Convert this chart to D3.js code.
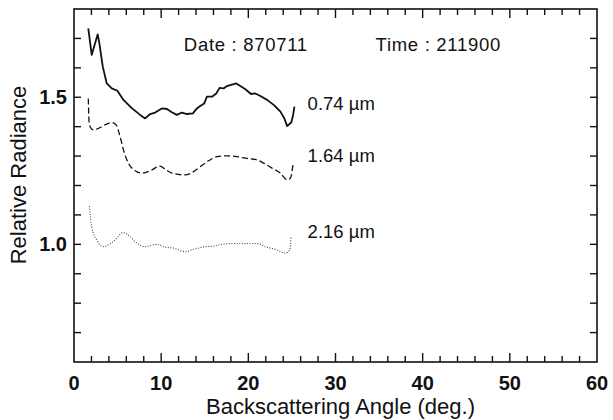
<!DOCTYPE html>
<html>
<head>
<meta charset="utf-8">
<script src="https://cdn.jsdelivr.net/npm/d3@7"></script>
<style>
  html, body { margin: 0; padding: 0; background: #fff; }
  svg { display: block; }
  text { font-family: "Liberation Sans", Arial, Helvetica, sans-serif; fill: #111; }
</style>
</head>
<body>
<svg id="chart" width="613" height="420"></svg>
<script>
// ---- data ----
const angle074 = [1.64, 2.03, 2.72, 2.91, 3.30, 3.76, 4.33, 4.98, 5.67, 6.63, 7.59, 8.16, 8.74, 9.31, 10.08, 10.66, 11.23, 11.80, 12.38, 12.95, 13.64, 14.10, 14.48, 14.94, 15.25, 15.83, 16.32, 16.70, 17.16, 17.55, 18.01, 18.62, 19.08, 19.66, 20.31, 20.80, 21.38, 22.15, 22.91, 23.68, 24.14, 24.45, 24.94, 25.14, 25.29];
const rad074 = [1.734, 1.644, 1.714, 1.683, 1.604, 1.547, 1.530, 1.522, 1.491, 1.463, 1.440, 1.428, 1.443, 1.448, 1.462, 1.460, 1.449, 1.440, 1.448, 1.443, 1.445, 1.462, 1.470, 1.479, 1.502, 1.502, 1.513, 1.532, 1.530, 1.538, 1.542, 1.547, 1.538, 1.527, 1.511, 1.513, 1.504, 1.491, 1.474, 1.451, 1.428, 1.402, 1.415, 1.440, 1.468];

const angle164 = [1.64, 1.76, 2.22, 2.79, 3.56, 4.33, 4.83, 5.29, 5.67, 6.24, 7.01, 7.78, 8.74, 9.89, 10.46, 11.23, 12.76, 13.71, 14.48, 15.44, 16.40, 17.55, 18.70, 19.66, 21.00, 21.76, 22.72, 23.68, 24.45, 24.83, 25.14];
const rad164 = [1.496, 1.406, 1.389, 1.394, 1.406, 1.414, 1.406, 1.366, 1.321, 1.276, 1.250, 1.242, 1.250, 1.266, 1.255, 1.242, 1.236, 1.247, 1.264, 1.284, 1.298, 1.301, 1.298, 1.293, 1.287, 1.276, 1.259, 1.242, 1.219, 1.225, 1.276];

const angle216 = [1.76, 2.03, 2.61, 3.37, 3.94, 4.71, 5.67, 6.44, 7.21, 8.16, 9.51, 10.26, 11.41, 12.76, 13.71, 15.06, 16.01, 17.16, 18.31, 19.85, 21.00, 21.95, 23.30, 24.25, 24.75, 24.91];
const rad216 = [1.130, 1.060, 1.015, 0.992, 0.998, 1.015, 1.040, 1.026, 1.004, 0.992, 1.000, 0.992, 0.987, 0.975, 0.983, 0.992, 0.994, 1.001, 1.003, 1.003, 1.003, 0.992, 0.981, 0.970, 0.981, 1.026];

const seriesLabels = ["0.74 µm", "1.64 µm", "2.16 µm"];
const labelAngle = [26.8, 26.8, 26.8];
const labelRad = [1.457, 1.280, 1.022];

const xTickLabels = [0, 10, 20, 30, 40, 50, 60];
const yTickLabels = [1.0, 1.5];
const xDomain = [0, 60];
const yDomain = [0.6, 1.8];

const annotations = ["Date : 870711", "Time : 211900"];
const annotationAngle = [12.6, 34.6];
const annotationRad = [1.657, 1.657];

const xTitle = "Backscattering Angle (deg.)";
const yTitle = "Relative Radiance";

// ---- drawing ----
const svg = d3.select("#chart");
const x = d3.scaleLinear().domain(xDomain).range([74, 597]);
const y = d3.scaleLinear().domain(yDomain).range([362, 9]);

const [x0, x1] = x.range();
const [yb, yt] = y.range();

// frame
svg.append("rect")
  .attr("x", x0).attr("y", yt)
  .attr("width", x1 - x0).attr("height", yb - yt)
  .attr("fill", "none").attr("stroke", "#111").attr("stroke-width", 1.6);

const minorX = d3.range(0, 60.001, 2);
const yTicksAll = d3.range(0.7, 1.75, 0.1);

const tickG = svg.append("g").attr("stroke", "#111").attr("stroke-width", 1.4);
minorX.forEach(v => {
  if (v === 0 || v === 60) return;
  const len = (v % 10 === 0) ? 9 : 6;
  tickG.append("line").attr("x1", x(v)).attr("x2", x(v)).attr("y1", yb).attr("y2", yb - len);
  tickG.append("line").attr("x1", x(v)).attr("x2", x(v)).attr("y1", yt).attr("y2", yt + len);
});
yTicksAll.forEach(v => {
  tickG.append("line").attr("x1", x0).attr("x2", x0 + 7).attr("y1", y(v)).attr("y2", y(v));
  tickG.append("line").attr("x1", x1).attr("x2", x1 - 7).attr("y1", y(v)).attr("y2", y(v));
});

// tick labels
svg.append("g").selectAll("text").data(xTickLabels).join("text")
  .attr("x", d => x(d)).attr("y", 390)
  .attr("text-anchor", "middle")
  .attr("font-size", 20).attr("font-weight", "bold")
  .text(d => d);

svg.append("g").selectAll("text").data(yTickLabels).join("text")
  .attr("x", x0 - 7).attr("y", d => y(d) + 7)
  .attr("text-anchor", "end")
  .attr("font-size", 20).attr("font-weight", "bold")
  .text(d => d.toFixed(1));

// axis titles
svg.append("text")
  .attr("x", (x0 + x1) / 2 + 5).attr("y", 414)
  .attr("text-anchor", "middle").attr("font-size", 22)
  .text(xTitle);

svg.append("text")
  .attr("transform", "translate(26,175) rotate(-90)")
  .attr("text-anchor", "middle").attr("font-size", 22)
  .text(yTitle);

// series
const lineGen = d3.line().x(d => x(d[0])).y(d => y(d[1]));
const smoothGen = d3.line().x(d => x(d[0])).y(d => y(d[1])).curve(d3.curveMonotoneX);

svg.append("path")
  .datum(d3.zip(angle074, rad074))
  .attr("d", lineGen)
  .attr("fill", "none").attr("stroke", "#111").attr("stroke-width", 1.8)
  .attr("stroke-linejoin", "round");

svg.append("path")
  .datum(d3.zip(angle164, rad164))
  .attr("d", smoothGen)
  .attr("fill", "none").attr("stroke", "#111").attr("stroke-width", 1.3)
  .attr("stroke-dasharray", "6,3");

svg.append("path")
  .datum(d3.zip(angle216, rad216))
  .attr("d", smoothGen)
  .attr("fill", "none").attr("stroke", "#444").attr("stroke-width", 1.1)
  .attr("stroke-dasharray", "1,1.6");

// series labels
svg.append("g").selectAll("text").data(seriesLabels).join("text")
  .attr("x", (d, i) => x(labelAngle[i])).attr("y", (d, i) => y(labelRad[i]))
  .attr("font-size", 18.5)
  .text(d => d);

// annotations
svg.append("g").selectAll("text").data(annotations).join("text")
  .attr("x", (d, i) => x(annotationAngle[i])).attr("y", (d, i) => y(annotationRad[i]))
  .attr("font-size", 18.5).attr("letter-spacing", 0.7)
  .text(d => d);
</script>
</body>
</html>
